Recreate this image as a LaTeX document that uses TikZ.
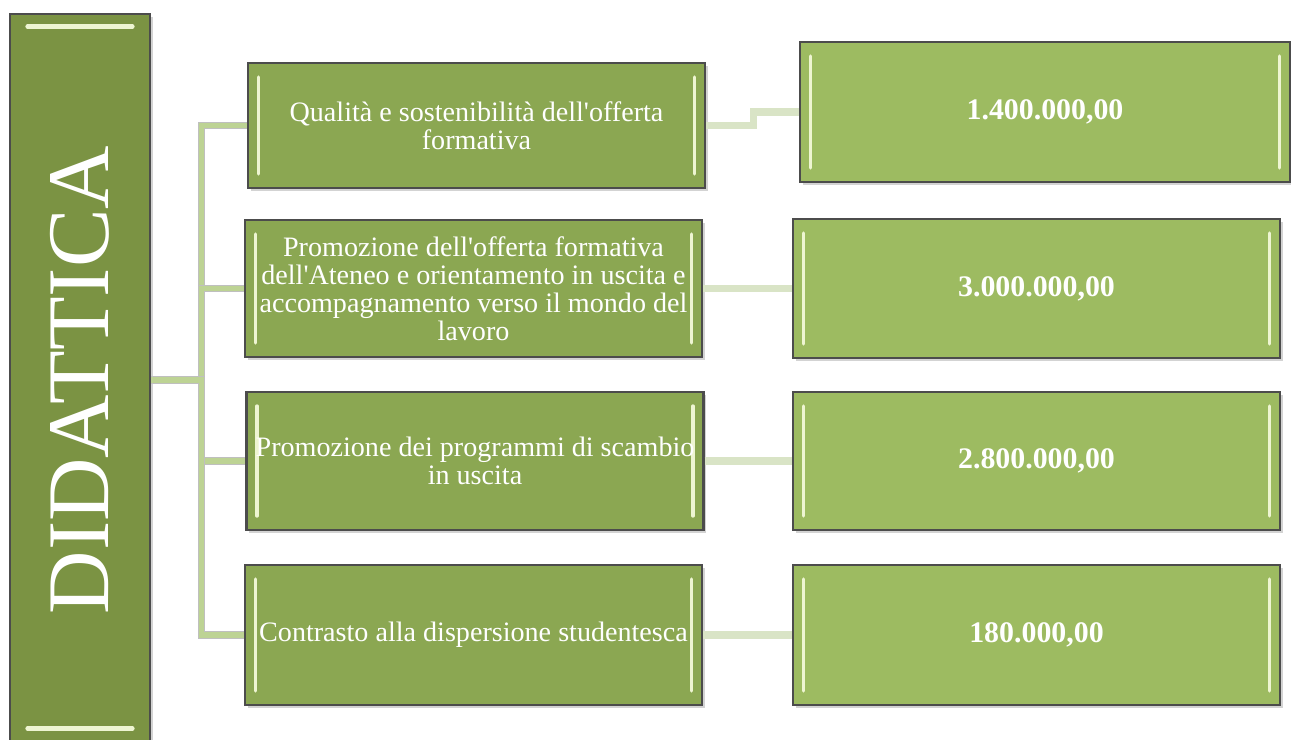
\documentclass[tikz,border=0pt]{standalone}
\usepackage{fontspec}
\setmainfont{Liberation Serif}
\usetikzlibrary{shadows}

\definecolor{didgreen}{HTML}{7B9343}
\definecolor{midgreen}{HTML}{8BA752}
\definecolor{valgreen}{HTML}{9DBB61}
\definecolor{treeline}{HTML}{BDD394}
\definecolor{paleline}{HTML}{D9E4C6}
\definecolor{gleam}{HTML}{EEF5D2}

\begin{document}
\begin{tikzpicture}[x=0.02cm,y=-0.02cm]
      \tikzstyle{every node}+=[inner sep=0pt]
      \tikzstyle{box}=[draw=black!70, line width=1.4pt, text=white, align=center,
        drop shadow={shadow xshift=1.5pt, shadow yshift=-1.5pt, opacity=0.35}]
      \tikzstyle{gloss}=[path picture={
        \draw[gleam, line width=2pt, line cap=round]
          ([shift={(6pt,-8pt)}]path picture bounding box.north west) --
          ([shift={(6pt,8pt)}]path picture bounding box.south west);
        \draw[gleam, line width=2pt, line cap=round]
          ([shift={(-6pt,-8pt)}]path picture bounding box.north east) --
          ([shift={(-6pt,8pt)}]path picture bounding box.south east);}]
      \tikzstyle{topgloss}=[path picture={
        \draw[gleam, line width=2.5pt, line cap=round]
          ([shift={(10pt,-7pt)}]path picture bounding box.north west) --
          ([shift={(-10pt,-7pt)}]path picture bounding box.north east);
        \draw[gleam, line width=2.5pt, line cap=round]
          ([shift={(10pt,10pt)}]path picture bounding box.south west) --
          ([shift={(-10pt,10pt)}]path picture bounding box.south east);}]
      \tikzstyle{goal}=[box, gloss, fill=midgreen, minimum width=9.14cm,
        font=\fontsize{16}{16}\selectfont]
      \tikzstyle{amount}=[box, gloss, fill=valgreen, minimum width=9.74cm,
        font=\fontsize{17}{18}\selectfont\bfseries]
      \tikzstyle{tree}=[draw=black!25, line width=0.6pt, double=treeline, double distance=3pt]
      \tikzstyle{feed}=[paleline, line width=4pt]
      \useasboundingbox (0,0) rectangle (1291,740);

      % area
      \node[box, topgloss, fill=didgreen, minimum width=2.8cm, minimum height=14.64cm,
        font=\fontsize{50}{50}\selectfont] (did) at (80,380) {\rotatebox{90}{DIDATTICA}};

      % obiettivi
      \node[goal, minimum height=2.5cm] (q1) at (476.5,125.5)
        {Qualità e sostenibilità dell\textquotesingle offerta\\formativa};
      \node[goal, minimum height=2.74cm] (q2) at (473.5,288.5)
        {Promozione dell\textquotesingle offerta formativa\\dell\textquotesingle Ateneo e orientamento in uscita e\\accompagnamento verso il mondo del\\lavoro};
      \node[goal, minimum height=2.76cm] (q3) at (475,461)
        {Promozione dei programmi di scambio\\in uscita};
      \node[goal, minimum height=2.8cm] (q4) at (473.5,635)
        {Contrasto alla dispersione studentesca};

      % importi
      \node[amount, minimum width=9.8cm, minimum height=2.8cm] (v1) at (1045,112) {1.400.000,00};
      \node[amount, minimum height=2.78cm] (v2) at (1036.5,288.5) {\raisebox{-5pt}{3.000.000,00}};
      \node[amount, minimum height=2.76cm] (v3) at (1036.5,461) {\raisebox{-5pt}{2.800.000,00}};
      \node[amount, minimum height=2.8cm] (v4) at (1036.5,635) {180.000,00};

      % connettori
      \foreach \q in {q1,q2,q3,q4}
        \draw[tree] (did.east) -- ++(50,0) |- (\q.west);
      \draw[feed] (q1.east) -- ++(47,0) |- (v1.west);
      \foreach \q/\v in {q2/v2,q3/v3,q4/v4}
        \draw[feed] (\q.east) -- (\v.west);
\end{tikzpicture}
\end{document}
